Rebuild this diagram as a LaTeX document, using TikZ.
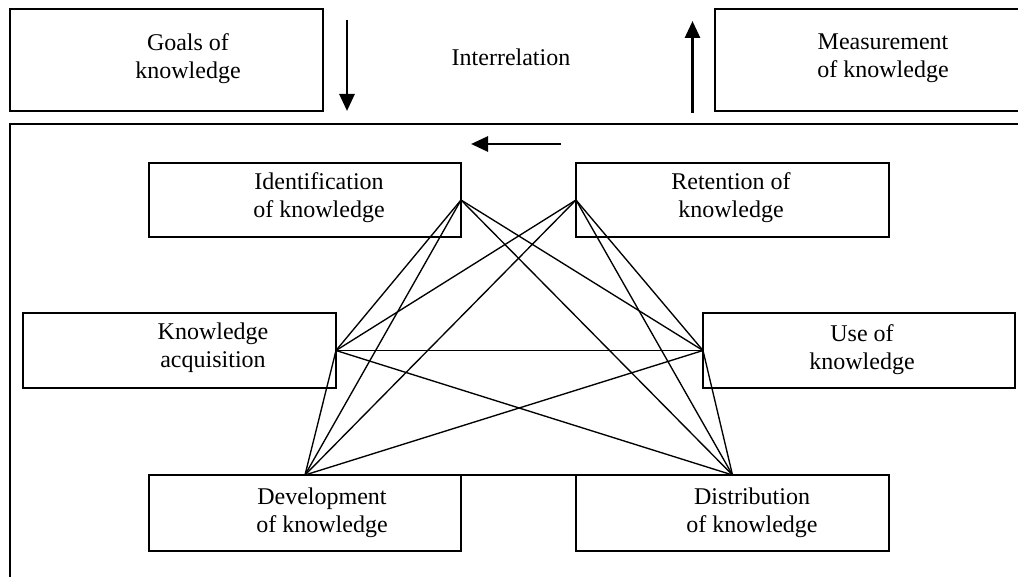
\documentclass[tikz,border=0pt]{standalone}
\usepackage{fontspec}
\setmainfont{Liberation Serif}
\usetikzlibrary{arrows.meta}
\begin{document}
\begin{tikzpicture}[x=1pt,y=-1pt,
  box/.style={draw=black, line width=1.4pt, inner sep=0pt, outer sep=0pt},
  lbl/.style={align=center, inner sep=0pt, font=\fontsize{24}{28}\selectfont},
  link/.style={draw=black, line width=1.35pt},
  flow/.style={draw=black, line width=2.8pt, -{Triangle[width=15pt,length=17pt]}}]

% canvas
\fill[white] (0,0) rectangle (1018,577);
\useasboundingbox (0,0) rectangle (1018,577);

% upper row
\node[box, minimum width=313pt, minimum height=102pt] (goals) at (166.5,60) {};
\node[box, minimum width=312pt, minimum height=102pt] (meas) at (871,60) {};
\node[lbl] (goalsT) at (188,59) {Goals of\\knowledge};
\node[lbl] (measT) at (883,58) {Measurement\\of knowledge};
\node[lbl, anchor=base] (inter) at (511,66) {Interrelation};

\coordinate (downA) at (347,20);
\coordinate (downB) at (347,111);
\coordinate (upA) at (692.5,113);
\coordinate (upB) at (692.5,21);
\coordinate (leftA) at (561,144);
\coordinate (leftB) at (471,144);
\draw[flow] (downA) -- (downB);
\draw[flow] (upA) -- (upB);
\draw[flow] (leftA) -- (leftB);

% open frame around the knowledge processes
\coordinate (frameTL) at (10,124);
\draw[line width=1.4pt] (1025,124) -- (frameTL) -- (10,585);

% process boxes
\node[box, minimum width=312pt, minimum height=74pt] (ident) at (305,200) {};
\node[box, minimum width=313pt, minimum height=74pt] (ret) at (732.5,200) {};
\node[box, minimum width=313pt, minimum height=75pt] (acq) at (179.5,350.5) {};
\node[box, minimum width=312pt, minimum height=75pt] (use) at (859,350.5) {};
\node[box, minimum width=312pt, minimum height=76pt] (dev) at (305,513) {};
\node[box, minimum width=313pt, minimum height=76pt] (dist) at (732.5,513) {};

\node[lbl] (identT) at (319,198) {Identification\\of knowledge};
\node[lbl] (retT) at (731,198) {Retention of\\knowledge};
\node[lbl] (acqT) at (213,348) {Knowledge\\acquisition};
\node[lbl] (useT) at (862,350) {Use of\\knowledge};
\node[lbl] (devT) at (322,513) {Development\\of knowledge};
\node[lbl] (distT) at (752,513) {Distribution\\of knowledge};

% interrelations between the processes
\draw[link] (ident.east) -- (acq.east);
\draw[link] (ident.east) -- (dev.north);
\draw[link] (ident.east) -- (use.west);
\draw[link] (ident.east) -- (dist.north);
\draw[link] (ret.west) -- (acq.east);
\draw[link] (ret.west) -- (dev.north);
\draw[link] (ret.west) -- (use.west);
\draw[link] (ret.west) -- (dist.north);
\draw[link] (acq.east) -- (use.west);
\draw[link] (acq.east) -- (dev.north);
\draw[link] (acq.east) -- (dist.north);
\draw[link] (use.west) -- (dev.north);
\draw[link] (use.west) -- (dist.north);
\draw[link] (dev.north) -- (dist.north);
\end{tikzpicture}
\end{document}
